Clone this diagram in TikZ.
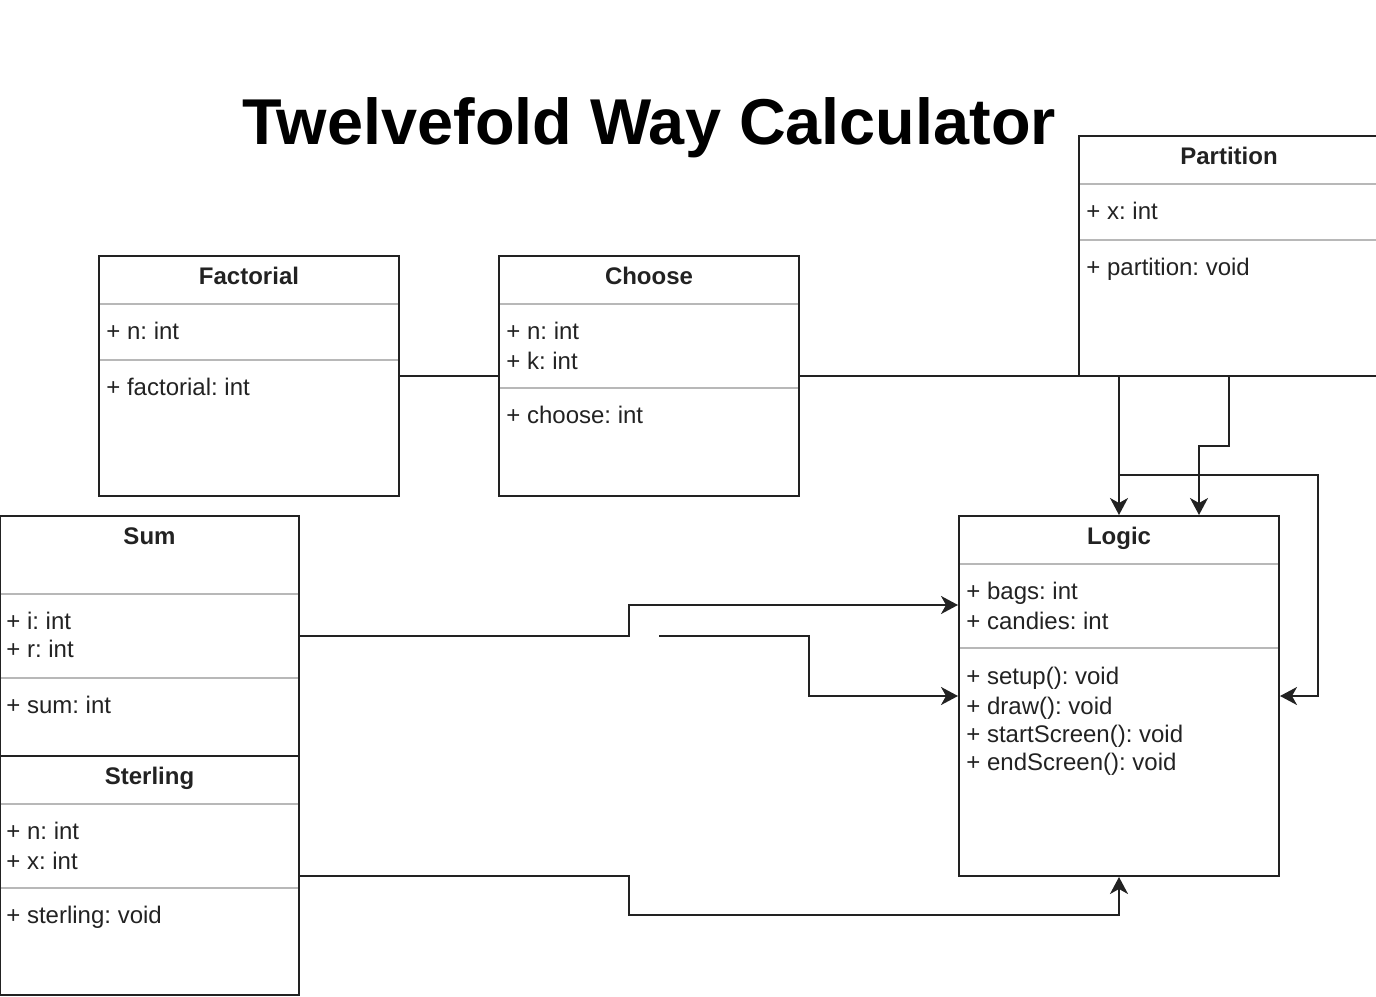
\documentclass[tikz,border=0pt]{standalone}
\usepackage{fontspec}
\setmainfont{Liberation Sans}
\usetikzlibrary{arrows.meta,calc}
\frenchspacing
\definecolor{ink}{HTML}{222222}
\definecolor{sepgray}{HTML}{B8B8B8}
\tikzset{
  classbox/.style={draw=ink, line width=1pt, rectangle, inner sep=0pt},
  sepline/.style={draw=sepgray, line width=1pt},
  hdr/.style={anchor=base, inner sep=0pt, font=\fontsize{12pt}{14.4pt}\selectfont\bfseries, text=ink},
  row/.style={anchor=base west, inner sep=0pt, font=\fontsize{12pt}{14.4pt}\selectfont, text=ink},
  conn/.style={draw=ink, line width=1pt},
  arr/.style={conn, -{Stealth[length=8.5pt, width=9pt, inset=2.5pt]}},
}
\begin{document}
\begin{tikzpicture}[x=0.5pt, y=-0.5pt]
\useasboundingbox (0,0) rectangle (1376,996);
% title
\node[anchor=base, inner sep=0pt, font=\fontsize{32.4pt}{38pt}\selectfont\bfseries] (title) at (649,144) {Twelvefold Way Calculator};

% Factorial
\node[classbox, minimum width=150pt, minimum height=120pt] (factorial) at (249,376) {};
\draw[sepline] (100,304) -- (398,304);
\draw[sepline] (100,360) -- (398,360);
\node[hdr] (factorialT) at (249,284) {Factorial};
\node[row] (fa1) at (106,339) {+ n: int};
\node[row] (fm1) at (106,395) {+ factorial: int};

% Choose
\node[classbox, minimum width=150pt, minimum height=120pt] (choose) at (649,376) {};
\draw[sepline] (500,304) -- (798,304);
\draw[sepline] (500,388) -- (798,388);
\node[hdr] (chooseT) at (649,284) {Choose};
\node[row] (ca1) at (506,339) {+ n: int};
\node[row] (ca2) at (506,369) {+ k: int};
\node[row] (cm1) at (506,423) {+ choose: int};

% Partition
\node[classbox, minimum width=150pt, minimum height=120pt] (partition) at (1229,256) {};
\draw[sepline] (1080,184) -- (1378,184);
\draw[sepline] (1080,240) -- (1378,240);
\node[hdr] (partitionT) at (1229,164) {Partition};
\node[row] (pa1) at (1086,219) {+ x: int};
\node[row] (pm1) at (1086,275) {+ partition: void};

% Sum
\node[classbox, minimum width=149.5pt, minimum height=120pt] (sum) at (149.5,636) {};
\draw[sepline] (1,594) -- (298,594);
\draw[sepline] (1,678) -- (298,678);
\node[hdr] (sumT) at (149.5,544) {Sum};
\node[row] (sa1) at (6,629) {+ i: int};
\node[row] (sa2) at (6,657) {+ r: int};
\node[row] (sm1) at (6,713) {+ sum: int};

% Sterling
\node[classbox, minimum width=149.5pt, minimum height=119.5pt] (sterling) at (149.5,875.5) {};
\draw[sepline] (1,804) -- (298,804);
\draw[sepline] (1,888) -- (298,888);
\node[hdr] (sterlingT) at (149.5,784) {Sterling};
\node[row] (sta1) at (6,839) {+ n: int};
\node[row] (sta2) at (6,869) {+ x: int};
\node[row] (stm1) at (6,923) {+ sterling: void};

% Logic
\node[classbox, minimum width=160pt, minimum height=180pt] (logic) at (1119,696) {};
\draw[sepline] (960,564) -- (1278,564);
\draw[sepline] (960,648) -- (1278,648);
\node[hdr] (logicT) at (1119,544) {Logic};
\node[row] (la1) at (966,599) {+ bags: int};
\node[row] (la2) at (966,629) {+ candies: int};
\node[row] (lm1) at (966,684) {+ setup(): void};
\node[row] (lm2) at (966,714) {+ draw(): void};
\node[row] (lm3) at (966,742) {+ startScreen(): void};
\node[row] (lm4) at (966,770) {+ endScreen(): void};

% connectors
\draw[conn] (factorial.east) -- (choose.west);
\draw[conn] (choose.east) -- (choose.east -| partition.south west);
\coordinate (pleft) at (partition.south -| logic.north);
\draw[arr] (pleft) -- (logic.north);
\coordinate (lt2) at ($(logic.north)+(80,0)$);
\draw[arr] (partition.south) -- ++(0,69) -| (lt2);
\coordinate (junc) at (1119,475);
\draw[arr] (junc) -- (1318,475) |- (logic.east);
\coordinate (lw1) at (logic.west |- 0,605);
\draw[arr] (sum.east) -- (629,636) |- (lw1);
\coordinate (free) at (659,636);
\draw[arr] (free) -- (809,636) |- (logic.west);
\draw[arr] (sterling.east) -- (sterling.east -| 629,0) -- (629,915) -| (logic.south);
\end{tikzpicture}
\end{document}
